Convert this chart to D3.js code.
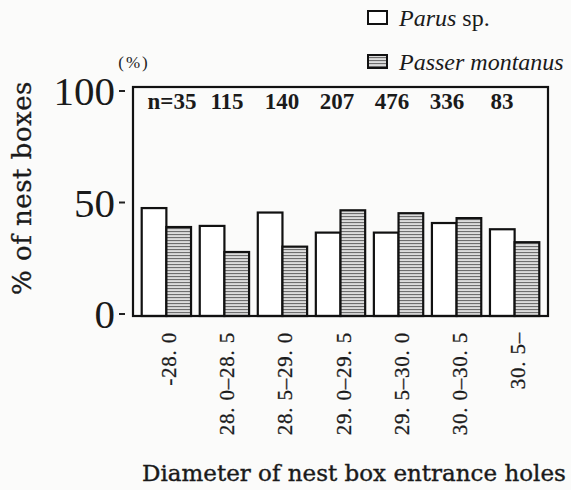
<!DOCTYPE html>
<html>
<head>
<meta charset="utf-8">
<script src="https://cdn.jsdelivr.net/npm/d3@7"></script>
<style>
  html, body { margin: 0; padding: 0; background: #fbfbfa; }
  svg { display: block; }
</style>
</head>
<body>
<div id="chart"></div>
<script>
// Nest box occupancy by entrance hole diameter
const categories = ['-28. 0', '28. 0–28. 5', '28. 5–29. 0', '29. 0–29. 5', '29. 5–30. 0', '30. 0–30. 5', '30. 5–'];
const sampleSizes = ['n=35', '115', '140', '207', '476', '336', '83'];
const parusValues = [47.5, 39.5, 45.5, 36.5, 36.5, 40.8, 38.0];
const passerValues = [39.0, 27.8, 30.2, 46.5, 45.2, 43.0, 32.2];
const yTicks = [0, 50, 100];

const width = 571;
const height = 490;
const plot = { left: 133, right: 548, top: 87, bottom: 316 };
const serif = "'Liberation Serif', 'Times New Roman', serif";
const bookSerif = "'DejaVu Serif', serif";

const svg = d3.select('#chart')
  .append('svg')
  .attr('width', width)
  .attr('height', height);

// hatch for Passer montanus
const defs = svg.append('defs');
const hatch = defs.append('pattern')
  .attr('id', 'hatch')
  .attr('patternUnits', 'userSpaceOnUse')
  .attr('width', 6)
  .attr('height', 3);
hatch.append('rect').attr('width', 6).attr('height', 3).attr('fill', '#dcdcdc');
hatch.append('rect').attr('y', 0).attr('width', 6).attr('height', 1.1).attr('fill', '#6e6e6e');

const x = d3.scaleBand()
  .domain(categories)
  .range([plot.left, plot.right])
  .paddingInner(0.15)
  .paddingOuter(0.15);

const xInner = d3.scaleBand()
  .domain(['parus', 'passer'])
  .range([0, x.bandwidth()]);

const y = d3.scaleLinear()
  .domain([0, 100])
  .range([314, 91]);

const series = [
  { key: 'parus', values: parusValues, fill: '#ffffff' },
  { key: 'passer', values: passerValues, fill: 'url(#hatch)' }
];

// bars
series.forEach(s => {
  svg.append('g')
    .selectAll('rect')
    .data(s.values)
    .join('rect')
    .attr('x', (d, i) => x(categories[i]) + xInner(s.key))
    .attr('y', d => y(d))
    .attr('width', xInner.bandwidth())
    .attr('height', d => plot.bottom - y(d))
    .attr('fill', s.fill)
    .attr('stroke', '#111')
    .attr('stroke-width', 2.2);
});

// frame
svg.append('rect')
  .attr('x', plot.left)
  .attr('y', plot.top)
  .attr('width', plot.right - plot.left)
  .attr('height', plot.bottom - plot.top)
  .attr('fill', 'none')
  .attr('stroke', '#111')
  .attr('stroke-width', 2.2);

// y ticks: short detached dashes
const yAxis = svg.append('g');
yTicks.forEach(t => {
  yAxis.append('line')
    .attr('x1', 119)
    .attr('x2', 125)
    .attr('y1', y(t))
    .attr('y2', y(t))
    .attr('stroke', '#222')
    .attr('stroke-width', 2);
  yAxis.append('text')
    .attr('x', 115)
    .attr('y', y(t) + 14)
    .attr('text-anchor', 'end')
    .attr('font-family', serif)
    .attr('font-size', '41px')
    .attr('fill', '#1a1a1a')
    .text(t);
});

svg.append('text')
  .attr('x', 134)
  .attr('y', 68)
  .attr('text-anchor', 'middle')
  .attr('font-family', serif)
  .attr('font-size', '17px')
  .attr('letter-spacing', '2px')
  .attr('fill', '#222')
  .text('(%)');

// sample sizes
const nPos = d3.scalePoint()
  .domain(sampleSizes)
  .range([172, 502]);

svg.append('g')
  .selectAll('text')
  .data(sampleSizes)
  .join('text')
  .attr('x', d => nPos(d))
  .attr('y', 109)
  .attr('text-anchor', 'middle')
  .attr('font-family', serif)
  .attr('font-weight', 'bold')
  .attr('font-size', '23px')
  .attr('fill', '#1a1a1a')
  .text(d => d);

// x labels, rotated
svg.append('g')
  .selectAll('text')
  .data(categories)
  .join('text')
  .attr('transform', d => `translate(${x(d) + x.bandwidth() / 2 + 3}, 332) rotate(-90)`)
  .attr('text-anchor', 'end')
  .attr('dominant-baseline', 'central')
  .attr('font-family', serif)
  .attr('font-size', '21px')
  .attr('letter-spacing', '0.8px')
  .attr('fill', '#1a1a1a')
  .attr('stroke', '#1a1a1a')
  .attr('stroke-width', 0.3)
  .text(d => d);

// axis titles
svg.append('text')
  .attr('x', 142)
  .attr('y', 481)
  .attr('font-family', bookSerif)
  .attr('font-size', '23px')
  .attr('fill', '#1a1a1a')
  .attr('stroke', '#1a1a1a')
  .attr('stroke-width', 0.4)
  .text('Diameter of nest box entrance holes');

svg.append('text')
  .attr('transform', 'translate(31, 188) rotate(-90)')
  .attr('text-anchor', 'middle')
  .attr('font-family', bookSerif)
  .attr('font-size', '26px')
  .attr('letter-spacing', '0.5px')
  .attr('fill', '#1a1a1a')
  .attr('stroke', '#1a1a1a')
  .attr('stroke-width', 0.3)
  .text('% of nest boxes');

// legend
const legendItems = [
  { label: 'Parus', suffix: ' sp.', fill: '#ffffff', y: 26 },
  { label: 'Passer montanus', suffix: '', fill: 'url(#hatch)', y: 70 }
];

const legend = svg.append('g');
legendItems.forEach(item => {
  legend.append('rect')
    .attr('x', 368)
    .attr('y', item.y - 15)
    .attr('width', 19)
    .attr('height', 13)
    .attr('fill', item.fill)
    .attr('stroke', '#111')
    .attr('stroke-width', 2);

  const t = legend.append('text')
    .attr('x', 399)
    .attr('y', item.y)
    .attr('font-family', serif)
    .attr('font-size', '24px')
    .attr('fill', '#1a1a1a');
  t.append('tspan').attr('font-style', 'italic').text(item.label);
  if (item.suffix) t.append('tspan').text(item.suffix);
});
</script>
</body>
</html>
